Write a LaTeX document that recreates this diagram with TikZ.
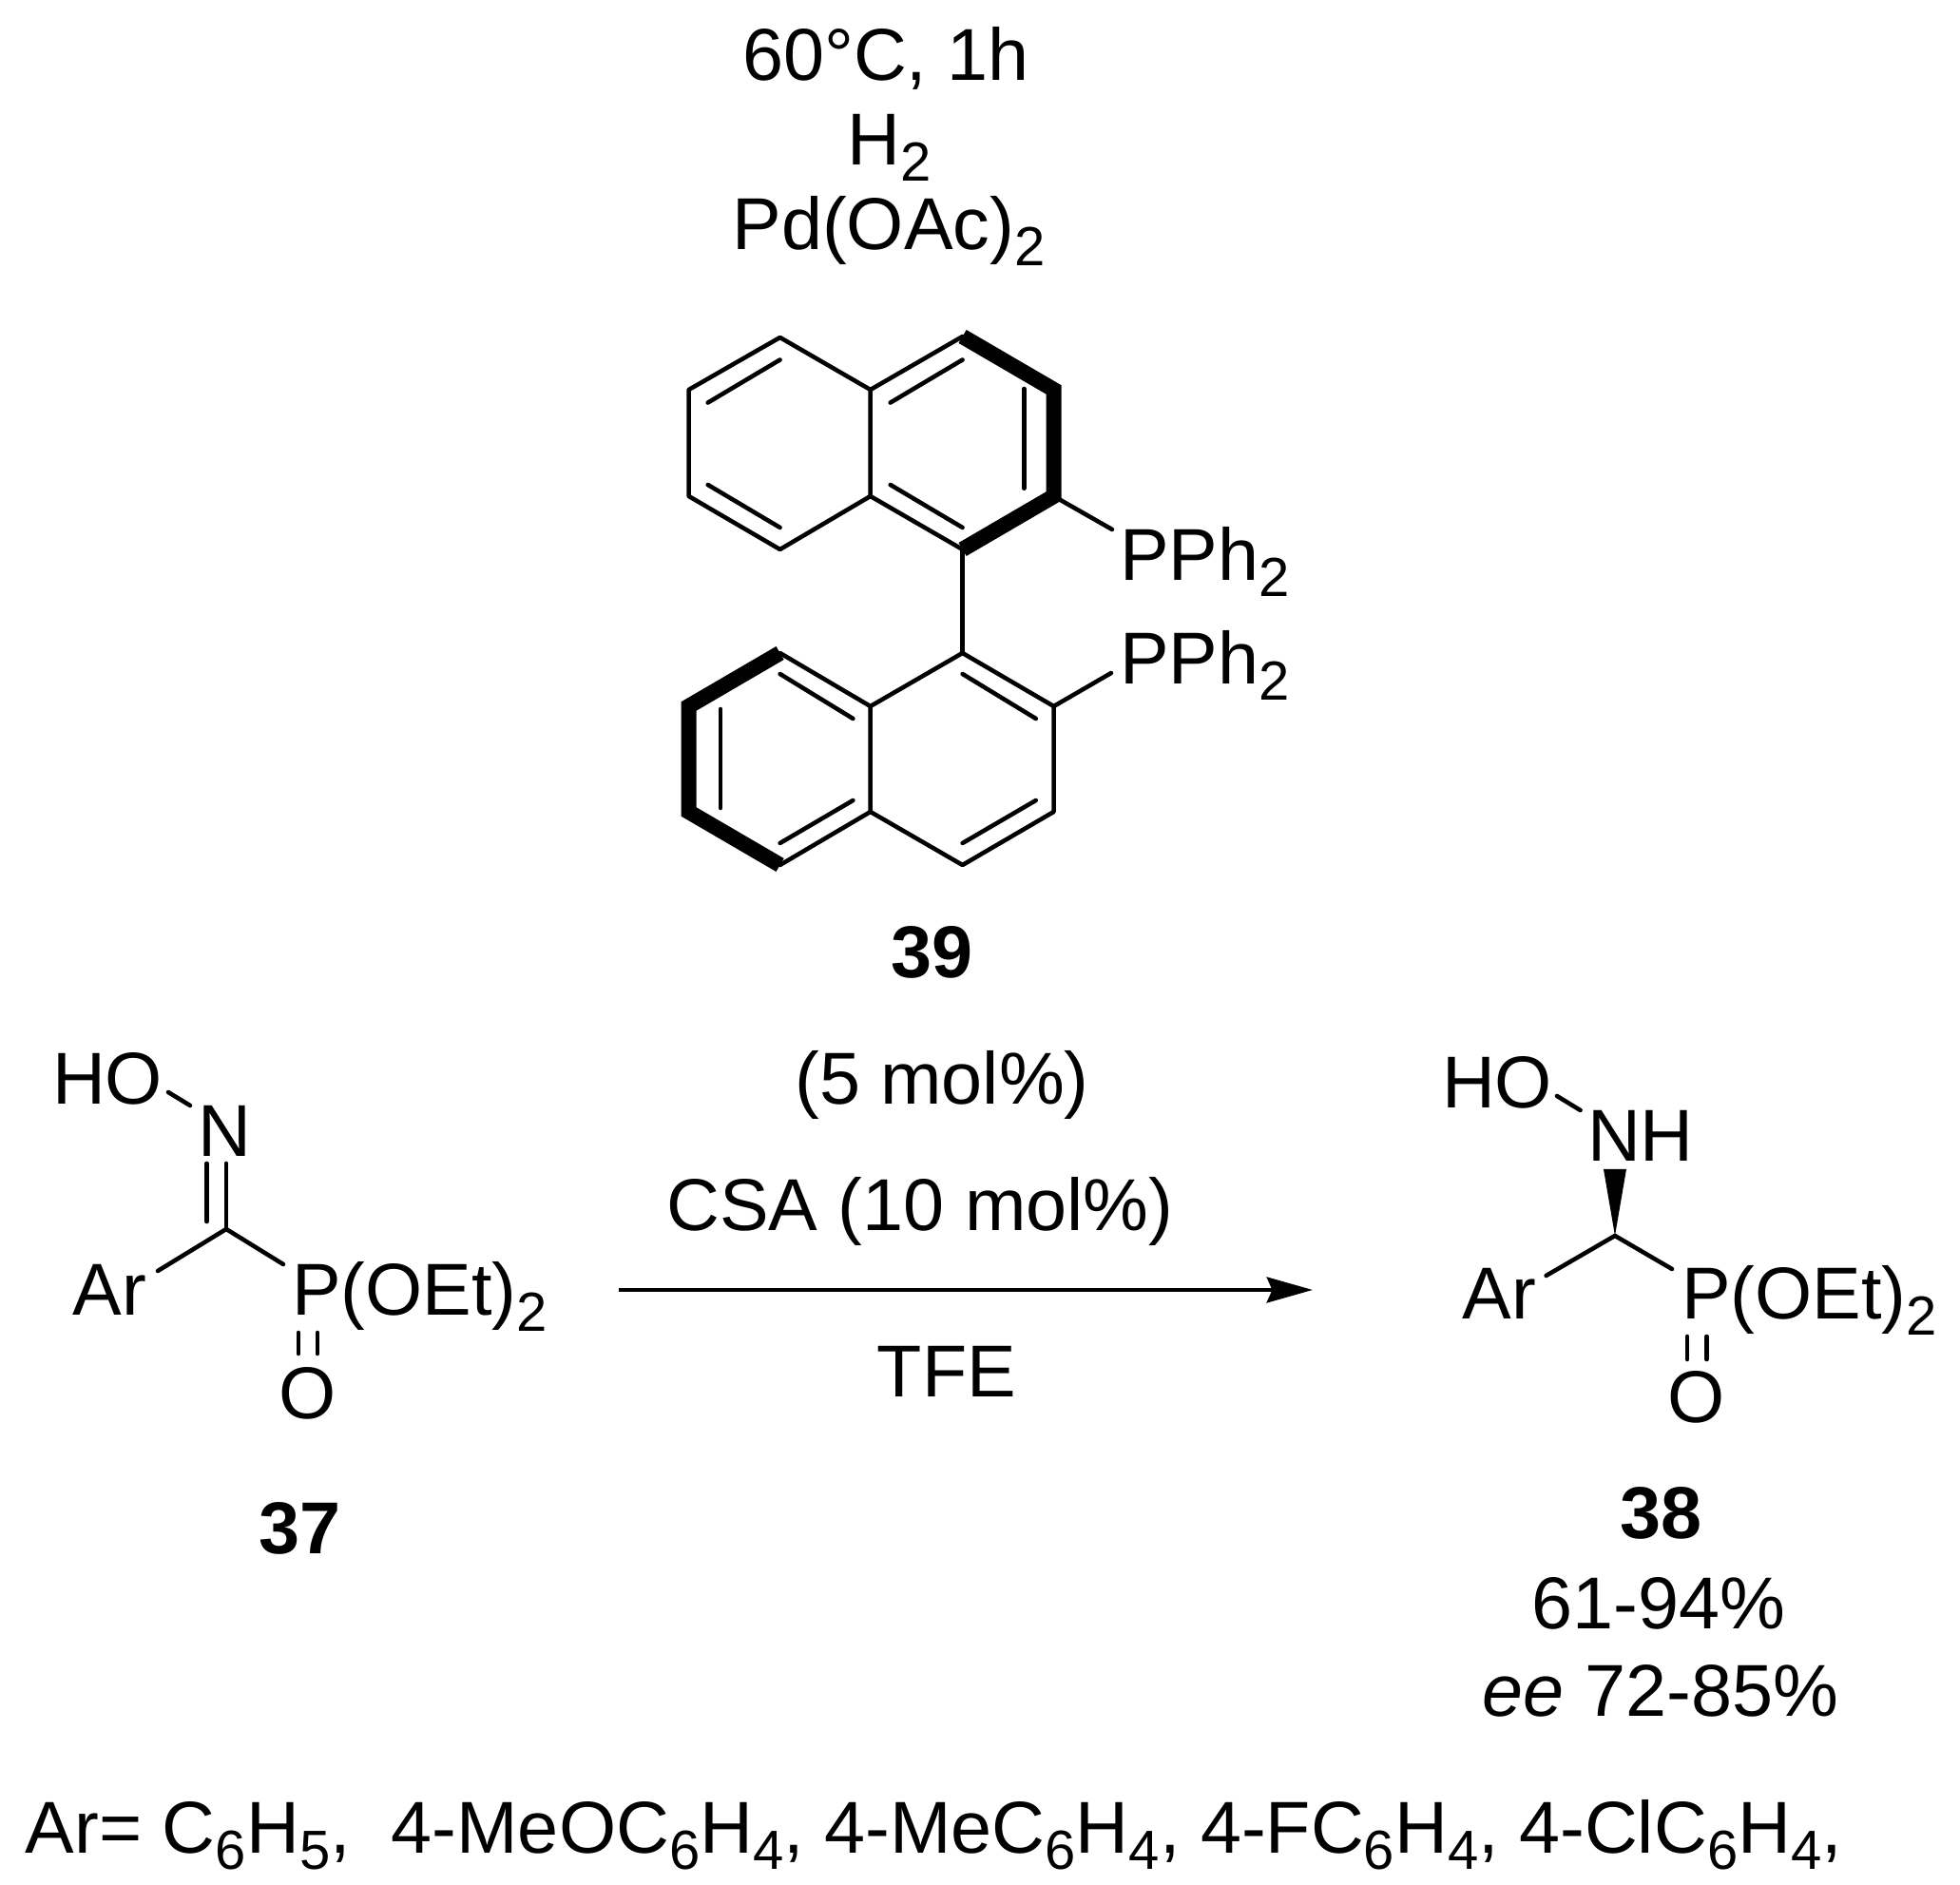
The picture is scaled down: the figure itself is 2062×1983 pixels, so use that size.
\documentclass[tikz,border=0pt]{standalone}
\usepackage{fontspec}
\setmainfont{Liberation Sans}
\usetikzlibrary{arrows.meta}
\newcommand{\subs}[1]{\raisebox{-4.75pt}{\fontsize{16.5}{18}\selectfont #1}}
\tikzset{
    lbl/.style={inner sep=0pt,outer sep=0pt,anchor=base,yshift=-0.4pt,font=\fontsize{22}{26}\selectfont},
    lblw/.style={lbl,anchor=base west},
    bond/.style={line width=1.3pt,line cap=round,line join=round},
    thickbond/.style={line width=4.6pt,line cap=butt,line join=miter}
}
\begin{document}
\begin{tikzpicture}[x=0.01cm,y=-0.01cm]
        \useasboundingbox (0,0) rectangle (2062,1983);
        \node[lbl] (temp) at (932,83) {60°C, 1h};
        \node[lbl] (hyd) at (936,172) {H\subs{2}};
        \node[lbl] (pd) at (935,261) {Pd(OAc)\subs{2}};
        \coordinate (a1) at (820.6,355);
        \coordinate (a2) at (724.6,410);
        \coordinate (a3) at (724.6,522);
        \coordinate (a4) at (820.6,578);
        \coordinate (a5) at (915.7,522);
        \coordinate (a6) at (915.7,410);
        \coordinate (a7) at (1012.6,354);
        \coordinate (a8) at (1108.6,410);
        \coordinate (a9) at (1108.6,522);
        \coordinate (a10) at (1012.6,578);
        \coordinate (a11) at (1170,557);
        \coordinate (b1) at (1012.6,687);
        \coordinate (b2) at (1108.6,743);
        \coordinate (b3) at (1108.6,854);
        \coordinate (b4) at (1012.6,910);
        \coordinate (b5) at (915.7,854);
        \coordinate (b6) at (915.7,743);
        \coordinate (b7) at (820.6,687);
        \coordinate (b8) at (724.6,743);
        \coordinate (b9) at (724.6,854);
        \coordinate (b10) at (820.6,910);
        \coordinate (b11) at (1169,708);
        \draw[bond] (a1) -- (a2) -- (a3) -- (a4) -- (a5) -- (a6) -- cycle;
        \draw[bond] (a6) -- (a7);
        \draw[bond] (a5) -- (a10);
        \draw[thickbond] (a7) -- (a8) -- (a9) -- (a10);
        \draw[bond] (a9) -- (a11);
        \draw[bond] (a10) -- (b1);
        \draw[bond] (b1) -- (b2) -- (b3) -- (b4) -- (b5) -- (b6) -- cycle;
        \draw[bond] (b6) -- (b7);
        \draw[bond] (b5) -- (b10);
        \draw[thickbond] (b7) -- (b8) -- (b9) -- (b10);
        \draw[bond] (b2) -- (b11);
        \coordinate (c1) at (744.7,423.6);
        \coordinate (c2) at (820.6,378.5);
        \coordinate (c3) at (744.7,510);
        \coordinate (c4) at (820.6,555);
        \coordinate (c5) at (936.7,423.6);
        \coordinate (c6) at (1012.6,378.5);
        \coordinate (c7) at (936.7,510);
        \coordinate (c8) at (1012.6,555);
        \coordinate (c9) at (1077.3,409);
        \coordinate (c10) at (1077.3,513.7);
        \draw[bond] (c1) -- (c2);
        \draw[bond] (c3) -- (c4);
        \draw[bond] (c5) -- (c6);
        \draw[bond] (c7) -- (c8);
        \draw[bond] (c9) -- (c10);
        \coordinate (d1) at (820.6,709);
        \coordinate (d2) at (897.4,756);
        \coordinate (d3) at (1012.6,709);
        \coordinate (d4) at (1089.8,756);
        \coordinate (d5) at (758,746);
        \coordinate (d6) at (758,850);
        \coordinate (d7) at (820.6,887);
        \coordinate (d8) at (897.4,842);
        \coordinate (d9) at (1012.6,887);
        \coordinate (d10) at (1089.8,842);
        \draw[bond] (d1) -- (d2);
        \draw[bond] (d3) -- (d4);
        \draw[bond] (d5) -- (d6);
        \draw[bond] (d7) -- (d8);
        \draw[bond] (d9) -- (d10);
        \node[lblw] (pph1) at (1178,609) {PPh\subs{2}};
        \node[lblw] (pph2) at (1178,718) {PPh\subs{2}};
        \node[lbl,font=\fontsize{22}{26}\selectfont\bfseries] (n39) at (981,1027) {39};
        \node[lbl] (mol1) at (991,1160) {(5 mol\%)};
        \node[lbl] (csa) at (968,1293) {CSA (10 mol\%)};
        \node[lbl] (tfe) at (996,1468) {TFE};
        \coordinate (s) at (651,1357);
        \coordinate (t) at (1381,1357);
        \draw[line width=1.4pt,-{Stealth[length=13.7pt,width=7.6pt,inset=1.6pt]}] (s) -- (t);
        \node[lblw] (ho1) at (55,1160) {HO};
        \node[lbl] (n1) at (236.6,1215) {N};
        \node[lblw] (ar1) at (76.7,1382) {Ar};
        \node[lblw] (p1) at (307,1382) {P(OEt)\subs{2}};
        \node[lbl] (o1) at (324,1491) {O};
        \node[lbl,font=\fontsize{22}{26}\selectfont\bfseries] (n37) at (316,1633) {37};
        \coordinate (e1) at (238,1293);
        \coordinate (e2) at (177,1149);
        \coordinate (e3) at (200,1163);
        \coordinate (e4) at (217.5,1224);
        \coordinate (e5) at (217.5,1285);
        \coordinate (e6) at (238,1224);
        \coordinate (e7) at (166,1337);
        \coordinate (e8) at (298,1330);
        \coordinate (e9) at (314,1402);
        \coordinate (e10) at (314,1424);
        \coordinate (e11) at (334,1402);
        \coordinate (e12) at (334,1424);
        \draw[bond] (e2) -- (e3);
        \draw[bond] (e4) -- (e5);
        \draw[bond] (e6) -- (e1);
        \draw[bond] (e1) -- (e7);
        \draw[bond] (e1) -- (e8);
        \draw[bond] (e9) -- (e10);
        \draw[bond] (e11) -- (e12);
        \node[lblw] (ho2) at (1517,1164) {HO};
        \node[lbl] (nh2) at (1726,1220) {NH};
        \node[lblw] (ar2) at (1538.6,1386) {Ar};
        \node[lblw] (p2) at (1769,1386) {P(OEt)\subs{2}};
        \node[lbl] (o2) at (1785,1495) {O};
        \node[lbl,font=\fontsize{22}{26}\selectfont\bfseries] (n38) at (1748,1617) {38};
        \node[lbl] (yield) at (1745,1712) {61-94\%};
        \node[lbl] (ee) at (1747,1804) {\textit{ee} 72-85\%};
        \coordinate (f1) at (1699,1300);
        \coordinate (f2) at (1638,1153);
        \coordinate (f3) at (1662.6,1168);
        \coordinate (f4) at (1687,1230);
        \coordinate (f5) at (1711,1230);
        \coordinate (f6) at (1626.6,1342);
        \coordinate (f7) at (1759,1335);
        \coordinate (f8) at (1775,1406);
        \coordinate (f9) at (1775,1430);
        \coordinate (f10) at (1795.5,1406);
        \coordinate (f11) at (1795.5,1430);
        \draw[bond] (f2) -- (f3);
        \fill (f4) -- (f5) -- (f1) -- cycle;
        \draw[bond] (f1) -- (f6);
        \draw[bond] (f1) -- (f7);
        \draw[bond] (f8) -- (f9);
        \draw[bond] (f10) -- (f11);
        \node[lblw] (arlist) at (27,1948) {Ar= C\subs{6}H\subs{5},\ \ 4-MeOC\subs{6}H\subs{4}, 4-MeC\subs{6}H\subs{4}, 4-FC\subs{6}H\subs{4}, 4-ClC\subs{6}H\subs{4},};
    \end{tikzpicture}
\end{document}
